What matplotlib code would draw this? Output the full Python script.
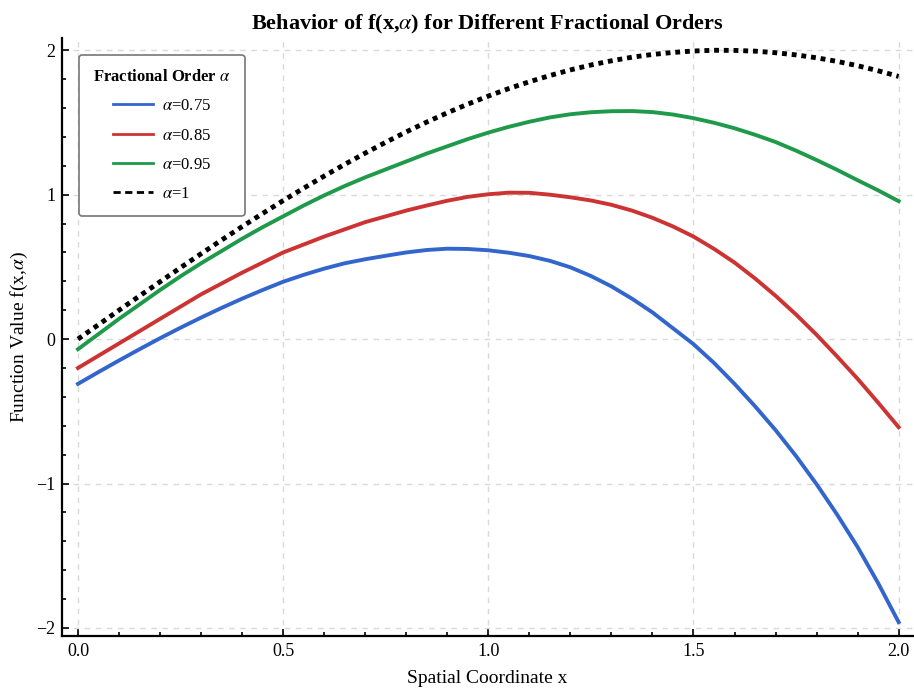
import matplotlib
matplotlib.use("Agg")
import matplotlib.pyplot as plt
from matplotlib.ticker import MultipleLocator

plt.rcParams['font.family'] = ['Liberation Serif', 'DejaVu Serif']
plt.rcParams['mathtext.fontset'] = 'stix'
plt.rcParams['axes.unicode_minus'] = True

# valores (x cada 0.05)
x = [0.0, 0.05, 0.1, 0.15, 0.2, 0.25, 0.3, 0.35, 0.4, 0.45, 0.5,
     0.55, 0.6, 0.65, 0.7, 0.75, 0.8, 0.85, 0.9, 0.95, 1.0,
     1.05, 1.1, 1.15, 1.2, 1.25, 1.3, 1.35, 1.4, 1.45, 1.5,
     1.55, 1.6, 1.65, 1.7, 1.75, 1.8, 1.85, 1.9, 1.95, 2.0]

f_075 = [-0.31, -0.228, -0.148, -0.07, 0.006, 0.079, 0.149, 0.216, 0.28, 0.34, 0.397,
         0.445, 0.488, 0.525, 0.553, 0.577, 0.60, 0.617, 0.626, 0.624, 0.615,
         0.598, 0.575, 0.542, 0.497, 0.437, 0.365, 0.28, 0.185, 0.075, -0.035,
         -0.165, -0.31, -0.465, -0.63, -0.81, -1.005, -1.215, -1.44, -1.69, -1.96]
f_085 = [-0.20, -0.115, -0.03, 0.055, 0.14, 0.225, 0.31, 0.385, 0.46, 0.53, 0.60,
         0.655, 0.71, 0.76, 0.81, 0.85, 0.89, 0.925, 0.958, 0.985, 1.003,
         1.014, 1.013, 1.0, 0.982, 0.96, 0.93, 0.89, 0.84, 0.78, 0.71,
         0.625, 0.53, 0.42, 0.30, 0.17, 0.03, -0.12, -0.275, -0.44, -0.61]
f_095 = [-0.07, 0.035, 0.14, 0.24, 0.34, 0.435, 0.525, 0.61, 0.695, 0.775, 0.85,
         0.925, 0.995, 1.06, 1.12, 1.175, 1.23, 1.285, 1.335, 1.385, 1.43,
         1.47, 1.505, 1.535, 1.557, 1.571, 1.578, 1.579, 1.572, 1.555, 1.53,
         1.498, 1.46, 1.415, 1.365, 1.305, 1.24, 1.172, 1.10, 1.03, 0.955]
f_100 = [0.0, 0.1, 0.2, 0.299, 0.397, 0.495, 0.591, 0.686, 0.779, 0.87, 0.959,
         1.045, 1.129, 1.21, 1.288, 1.363, 1.435, 1.503, 1.567, 1.627, 1.683,
         1.735, 1.782, 1.825, 1.864, 1.898, 1.927, 1.952, 1.971, 1.985, 1.995,
         2.0, 1.999, 1.994, 1.983, 1.968, 1.948, 1.923, 1.893, 1.858, 1.819]

etiquetas = [r'$\alpha$=0.75', r'$\alpha$=0.85', r'$\alpha$=0.95', r'$\alpha$=1']
colores = ['#3366cc', '#cc3333', '#1f9a4a', 'black']

fig = plt.figure(figsize=(9.14, 6.89), dpi=100)
ax = fig.add_axes([62 / 914, 53 / 689, 851 / 914, 598 / 689])

ax.plot(x, f_075, color=colores[0], lw=2.8, label=etiquetas[0])
ax.plot(x, f_085, color=colores[1], lw=2.8, label=etiquetas[1])
ax.plot(x, f_095, color=colores[2], lw=2.8, label=etiquetas[2])
ax.plot(x, f_100, color=colores[3], lw=3.5, dashes=(1.0, 1.0), label=etiquetas[3])

ax.set_xlim(-0.039, 2.035)
ax.set_ylim(-2.056, 2.085)
ax.xaxis.set_major_locator(MultipleLocator(0.5))
ax.xaxis.set_minor_locator(MultipleLocator(0.1))
ax.yaxis.set_major_locator(MultipleLocator(1))
ax.yaxis.set_minor_locator(MultipleLocator(0.2))

ax.spines['top'].set_visible(False)
ax.spines['right'].set_visible(False)
ax.spines['left'].set_linewidth(1.6)
ax.spines['bottom'].set_linewidth(1.6)
ax.tick_params(which='both', direction='in', labelsize=13, width=1.2)
ax.tick_params(which='major', length=5, pad=5)
ax.tick_params(which='minor', length=3)

ax.grid(True, which='major', color='#d9d9d9', linestyle=(0, (4, 4)), linewidth=1.0)

ax.set_title(r'Behavior of f(x,$\alpha$) for Different Fractional Orders',
             fontsize=16, fontweight='bold', pad=6)
ax.set_xlabel('Spatial Coordinate x', fontsize=14, labelpad=7)
ax.set_ylabel(r'Function Value f(x,$\alpha$)', fontsize=14, labelpad=4)

leg = ax.legend(loc='upper left', title=r'Fractional Order $\alpha$',
                fontsize=12, title_fontproperties={'weight': 'bold', 'size': 12},
                frameon=True, fancybox=True, edgecolor='#777777', framealpha=1,
                labelspacing=0.8, handlelength=2.4, handletextpad=0.55,
                borderpad=0.85, borderaxespad=1.0)
leg.get_frame().set_linewidth(1.2)
for linea in leg.get_lines():
    linea.set_linewidth(2.0)
leg.get_lines()[3].set_dashes((2.6, 1.6))

fig.savefig('out.png', dpi=100)
